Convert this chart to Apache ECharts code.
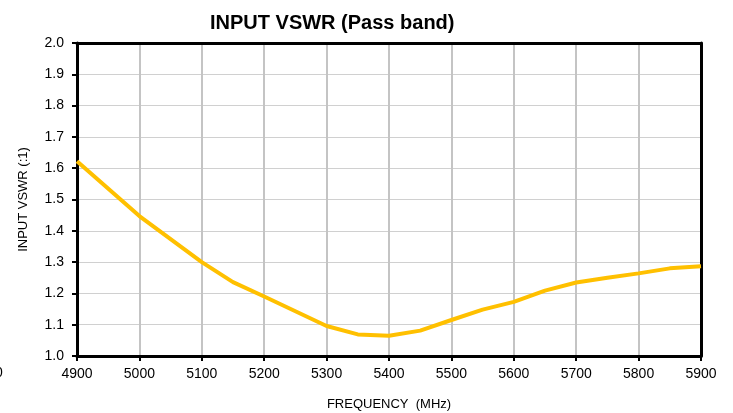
<!DOCTYPE html>
<html>
<head>
<meta charset="utf-8">
<script src="https://cdn.jsdelivr.net/npm/echarts@6/dist/echarts.min.js"></script>
<style>
html,body{margin:0;padding:0;background:#fff;}
#c{width:733px;height:413px;}
</style>
</head>
<body>
<div id="c"></div>
<script>
const freqs = [4900, 5000, 5100, 5150, 5200, 5300, 5350, 5400, 5450, 5500, 5550, 5600, 5650, 5700, 5750, 5800, 5850, 5900];
const vswr  = [1.622, 1.447, 1.300, 1.236, 1.190, 1.096, 1.069, 1.065, 1.081, 1.115, 1.148, 1.173, 1.209, 1.235, 1.250, 1.264, 1.280, 1.287];
const xTicks = [4900, 5000, 5100, 5200, 5300, 5400, 5500, 5600, 5700, 5800, 5900];
const yTicks = [1.0, 1.1, 1.2, 1.3, 1.4, 1.5, 1.6, 1.7, 1.8, 1.9, 2.0];

const chart = echarts.init(document.getElementById('c'), null, {renderer: 'canvas'});
const font = 'Liberation Sans, Arial, sans-serif';
const border = {show: true, onZero: false, lineStyle: {color: '#000', width: 3}};
chart.setOption({
  animation: false,
  backgroundColor: '#fff',
  title: {
    text: 'INPUT VSWR (Pass band)',
    left: 205, top: 8,
    textStyle: {fontFamily: font, fontSize: 20, fontWeight: 'bold', color: '#000'}
  },
  grid: {
    left: 77, right: 32, top: 43, bottom: 57,
    outerBoundsMode: 'none', containLabel: false
  },
  xAxis: [{
    type: 'value',
    min: xTicks[0], max: xTicks[xTicks.length - 1], interval: 100,
    name: 'FREQUENCY  (MHz)', nameLocation: 'middle', nameGap: 42,
    nameTextStyle: {fontFamily: font, fontSize: 13, color: '#000'},
    axisLine: border,
    axisTick: {show: true, length: 5, lineStyle: {color: '#000', width: 2}},
    axisLabel: {fontFamily: font, fontSize: 14, color: '#000', margin: 11,
      formatter: v => xTicks.includes(v) ? String(v) : ''},
    splitLine: {show: true, lineStyle: {color: '#c4c4c4', width: 2}}
  }, {
    type: 'value', position: 'top',
    min: xTicks[0], max: xTicks[xTicks.length - 1], interval: 100,
    axisLine: border, axisTick: {show: false}, axisLabel: {show: false}, splitLine: {show: false}
  }],
  yAxis: [{
    type: 'value',
    min: yTicks[0], max: yTicks[yTicks.length - 1], interval: 0.1,
    name: 'INPUT VSWR (:1)', nameLocation: 'middle', nameGap: 47,
    nameTextStyle: {fontFamily: font, fontSize: 13, color: '#000'},
    axisLine: border,
    axisTick: {show: true, length: 5, lineStyle: {color: '#000', width: 2}},
    axisLabel: {fontFamily: font, fontSize: 14, color: '#000', margin: 13,
      formatter: v => v.toFixed(1)},
    splitLine: {show: true, lineStyle: {color: '#d0d0d0', width: 1}}
  }, {
    type: 'value', position: 'right',
    min: yTicks[0], max: yTicks[yTicks.length - 1], interval: 0.1,
    axisLine: border, axisTick: {show: false}, axisLabel: {show: false}, splitLine: {show: false}
  }],
  graphic: [{
    type: 'text', left: -5, top: 366,
    style: {text: '0', fontFamily: font, fontSize: 14, fill: '#000'}
  }],
  series: [{
    type: 'line',
    xAxisIndex: 0, yAxisIndex: 0,
    data: freqs.map((f, i) => [f, vswr[i]]),
    showSymbol: false,
    lineStyle: {color: '#FFC000', width: 4},
    clip: false
  }]
});
</script>
</body>
</html>
